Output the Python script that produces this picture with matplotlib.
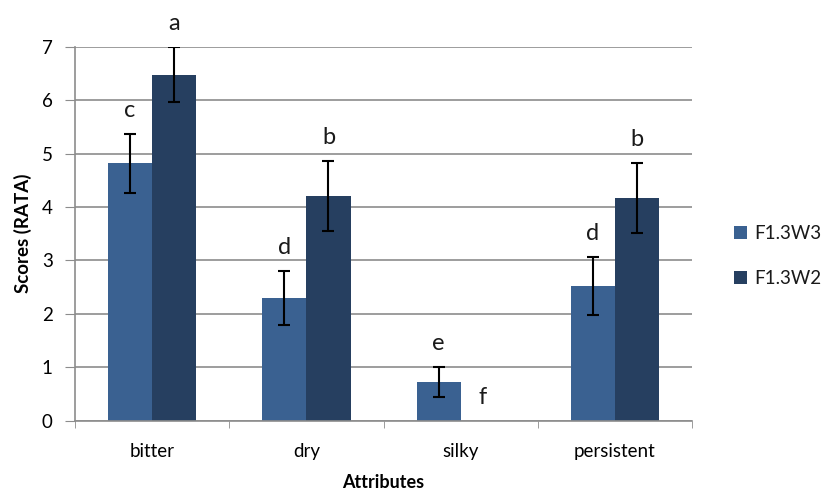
import numpy as np
import matplotlib.pyplot as plt

# RATA scores per attribute, two samples
attributes = ["bitter", "dry", "silky", "persistent"]
series = ["F1.3W3", "F1.3W2"]
w3_mean = [4.82, 2.30, 0.73, 2.52]
w3_err = [0.55, 0.51, 0.28, 0.55]
w2_mean = [6.48, 4.21, 0.0, 4.17]
w2_err = [0.52, 0.65, 0.0, 0.65]
w3_letters = ["c", "d", "e", "d"]
w2_letters = ["a", "b", "f", "b"]

colors = ["#3A6191", "#263F60"]
plt.rcParams["font.family"] = ["Lato", "DejaVu Sans"]
plt.rcParams["text.color"] = "#1a1a1a"

fig = plt.figure(figsize=(8.26, 4.96), dpi=100)
ax = fig.add_axes([0.0908, 0.1518, 0.747, 0.754])

x = np.arange(len(attributes))
width = 0.286
means = [w3_mean, w2_mean]
errs = [w3_err, w2_err]
letters = [w3_letters, w2_letters]
offsets = [-width / 2, width / 2]

for i in range(2):
    xs = x + offsets[i]
    m = np.array(means[i])
    e = np.array(errs[i])
    ax.bar(xs, m, width, color=colors[i], label=series[i], zorder=2)
    # no whiskers where there is no spread
    has_err = e > 0
    ax.errorbar(xs[has_err], m[has_err], yerr=e[has_err], fmt="none",
                ecolor="black", elinewidth=1.5, capsize=4.5, capthick=1.5,
                zorder=3)
    for xi, mi, ei, lab in zip(xs, m, e, letters[i]):
        ax.text(xi, mi + ei + 0.44, lab, ha="center", va="center",
                fontsize=17)

ax.set_xlim(-0.5, len(attributes) - 0.5)
ax.set_ylim(0, 7)
ax.set_yticks(range(8))
ax.yaxis.grid(True, color="#8c8c8c", linewidth=1.2, zorder=0)
ax.set_axisbelow(True)

# category labels centred, ticks on the group boundaries
ax.set_xticks(x)
ax.set_xticklabels(attributes, fontsize=13.5)
ax.tick_params(axis="x", length=0, pad=16)
ax.set_xticks(np.arange(-0.5, len(attributes)), minor=True)
ax.tick_params(axis="x", which="minor", length=5, color="#8c8c8c")
ax.tick_params(axis="y", length=7, color="#8c8c8c", labelsize=13.5, pad=9)

for side in ["top", "right"]:
    ax.spines[side].set_visible(False)
for side in ["left", "bottom"]:
    ax.spines[side].set_color("#8c8c8c")
    ax.spines[side].set_linewidth(1.2)

ax.set_ylabel("Scores (RATA)", fontsize=13.5, fontweight="bold", labelpad=7)
ax.set_xlabel("Attributes", fontsize=13, fontweight="bold", labelpad=10)

ax.legend(loc="center left", bbox_to_anchor=(1.04, 0.44), frameon=False,
          fontsize=13.5, handlelength=0.7, handleheight=0.7,
          labelspacing=1.5, handletextpad=0.4)

fig.savefig("out.png", dpi=100)
